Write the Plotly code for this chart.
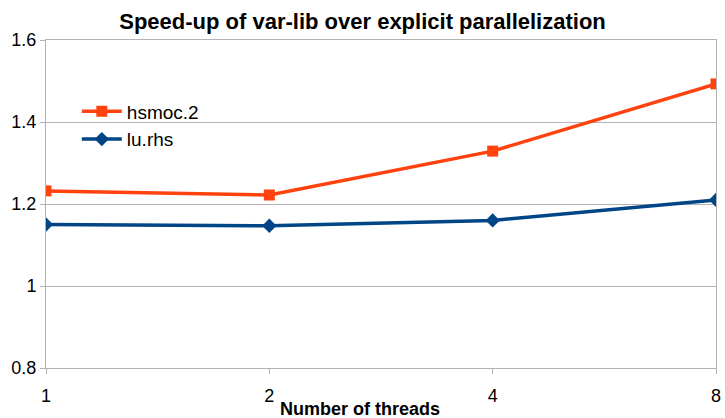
import plotly.graph_objects as go

threads = ["1", "2", "4", "8"]
hsmoc2 = [1.232, 1.222, 1.329, 1.493]
lurhs = [1.150, 1.147, 1.160, 1.210]
y_ticks = [0.8, 1.0, 1.2, 1.4, 1.6]
y_tick_labels = ["0.8", "1", "1.2", "1.4", "1.6"]

fig = go.Figure()
fig.add_trace(go.Scatter(x=threads, y=hsmoc2, name="hsmoc.2", mode="lines+markers",
                         legendgroup="a",
                         line=dict(color="#FF420E", width=3.5),
                         marker=dict(symbol="square", size=11, color="#FF420E")))
fig.add_trace(go.Scatter(x=threads, y=lurhs, name="lu.rhs", mode="lines+markers",
                         legendgroup="b",
                         line=dict(color="#004586", width=3.5),
                         marker=dict(symbol="diamond", size=11, color="#004586")))

fig.update_layout(
    width=725, height=418,
    margin=dict(l=46, r=4, t=40, b=50),
    paper_bgcolor="white", plot_bgcolor="white",
    font=dict(family="Liberation Sans, Arial, sans-serif", color="#000000"),
    title=dict(text="<b>Speed-up of var-lib over explicit parallelization</b>",
               x=0.5, xanchor="center", y=0.948, yanchor="middle",
               font=dict(size=22, color="#000000")),
    legend=dict(x=0.046, y=0.84, xanchor="left", yanchor="top", itemwidth=40,
                font=dict(size=19), bgcolor="rgba(0,0,0,0)", tracegroupgap=0),
    showlegend=True,
    annotations=[dict(text="<b>Number of threads</b>", x=(362 - 46) / 675, xref="paper",
                      y=(418 - 50 - 408.5) / (418 - 40 - 50), yref="paper", showarrow=False,
                      font=dict(size=18), xanchor="center", yanchor="middle")],
)
fig.update_xaxes(type="category", range=[0, 3], showgrid=False,
                 showline=True, linecolor="#b3b3b3", mirror=True,
                 ticks="outside", ticklen=5, tickcolor="#b3b3b3",
                 ticklabelstandoff=6, tickfont=dict(size=18))
fig.update_yaxes(range=[0.8, 1.6], tickvals=y_ticks, ticktext=y_tick_labels,
                 showgrid=True, gridcolor="#b3b3b3",
                 showline=True, linecolor="#b3b3b3", mirror=True,
                 ticks="outside", ticklen=5, tickcolor="#b3b3b3",
                 tickfont=dict(size=18), zeroline=False)

fig.write_html("out.html")
